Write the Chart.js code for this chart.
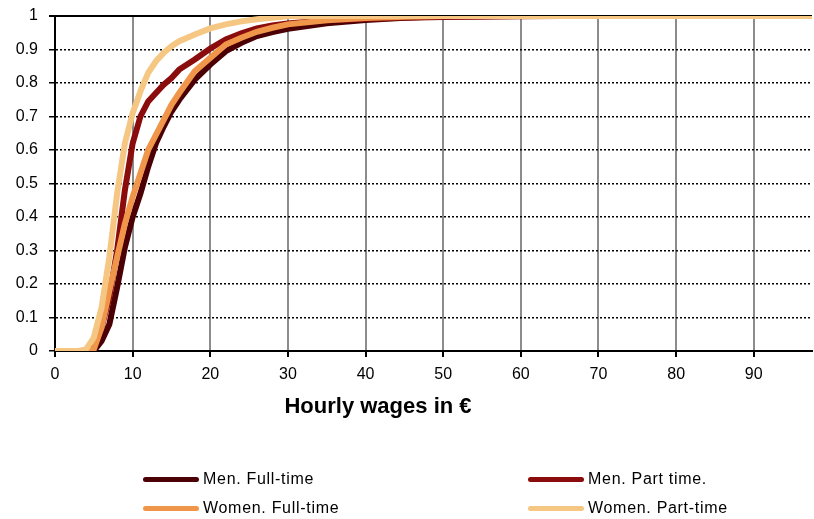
<!DOCTYPE html>
<html>
<head>
<meta charset="utf-8">
<script src="https://cdn.jsdelivr.net/npm/chart.js@4"></script>
<style>
  body { margin: 0; background: #fff; }
  #wrap { position: relative; width: 814px; height: 519px; }
  .leg { position: absolute; display: flex; align-items: center; height: 20px; font: 16px Arial, 'Liberation Sans', sans-serif; letter-spacing: 0.7px; color: #000; }
  .leg span.ln { display: inline-block; width: 56px; height: 5px; border-radius: 3px; margin-right: 4px; }
</style>
</head>
<body>
<div id="wrap">
  <canvas id="myChart" width="814" height="519"></canvas>
  <div class="leg" style="left:143px; top:469px"><span class="ln" style="background:#4a0004"></span>Men. Full-time</div>
  <div class="leg" style="left:528px; top:469px"><span class="ln" style="background:#8b0c0c"></span>Men. Part time.</div>
  <div class="leg" style="left:143px; top:498px"><span class="ln" style="background:#f0964a"></span>Women. Full-time</div>
  <div class="leg" style="left:528px; top:498px"><span class="ln" style="background:#f6c683"></span>Women. Part-time</div>
</div>
<script>
// salários por hora (eixo x)
const salarios = [0, 3, 4, 5, 6, 7, 8, 9, 10, 11, 12, 13, 14, 15, 16, 18, 20, 22, 24, 26, 28, 30, 35, 40, 45, 50, 55, 60, 65, 70, 80, 90, 100]

// distribuição acumulada por grupo
const homensIntegral = [0, 0, 0, 0, 0.03, 0.08, 0.19, 0.31, 0.40, 0.47, 0.55, 0.62, 0.67, 0.715, 0.75, 0.81, 0.855, 0.895, 0.92, 0.94, 0.952, 0.962, 0.978, 0.988, 0.995, 0.999, 1, 1, 1, 1, 1, 1, 1]
const homensParcial = [0, 0, 0, 0.02, 0.07, 0.16, 0.30, 0.48, 0.62, 0.70, 0.745, 0.77, 0.795, 0.815, 0.84, 0.87, 0.903, 0.93, 0.948, 0.963, 0.972, 0.978, 0.987, 0.992, 0.995, 0.997, 0.998, 0.999, 1, 1, 1, 1, 1]
const mulheresIntegral = [0, 0, 0, 0.005, 0.07, 0.18, 0.28, 0.38, 0.46, 0.53, 0.60, 0.645, 0.69, 0.735, 0.77, 0.835, 0.875, 0.915, 0.935, 0.953, 0.965, 0.975, 0.987, 0.994, 0.998, 1, 1, 1, 1, 1, 1, 1, 1]
const mulheresParcial = [0, 0, 0.005, 0.04, 0.13, 0.28, 0.47, 0.62, 0.71, 0.775, 0.83, 0.865, 0.89, 0.91, 0.925, 0.945, 0.963, 0.975, 0.984, 0.99, 0.995, 0.999, 1, 1, 1, 1, 1, 1, 1, 1, 1, 1, 1]

const nomes = ['Men. Full-time', 'Men. Part time.', 'Women. Full-time', 'Women. Part-time']
const cores = ['#4a0004', '#8b0c0c', '#f0964a', '#f6c683']
const series = [homensIntegral, homensParcial, mulheresIntegral, mulheresParcial]

const fonte = "Arial, 'Liberation Sans', sans-serif"

// título do eixo x (não centralizado na área do gráfico, como no original)
const tituloEixo = {
    id: 'tituloEixo',
    afterDraw(chart) {
        const c = chart.ctx
        c.save()
        c.font = 'bold 22px ' + fonte
        c.fillStyle = '#000'
        c.textAlign = 'center'
        c.textBaseline = 'alphabetic'
        c.fillText('Hourly wages in €', 378, 413)
        c.restore()
    }
}

const ctx = document.getElementById('myChart')
new Chart(ctx, {
    type: 'line',
    data: {
        datasets: series.map((s, i) => ({
            label: nomes[i],
            data: s.map((v, j) => ({ x: salarios[j], y: v })),
            borderColor: cores[i],
            backgroundColor: cores[i],
            borderWidth: 6,
            pointRadius: 0,
            tension: 0,
            order: 4 - i
        }))
    },
    options: {
        responsive: false,
        animation: false,
        layout: { padding: { left: 0, right: 2, top: 16, bottom: 88 } },
        plugins: { legend: { display: false }, tooltip: { enabled: false } },
        scales: {
            x: {
                type: 'linear',
                min: 0,
                max: 97.5,
                afterFit: (scale) => { scale.height = 80; scale.paddingLeft = 0; scale.paddingRight = 0 },
                ticks: { stepSize: 10, includeBounds: false, color: '#000', padding: 8, maxRotation: 0, font: { family: fonte, size: 16 } },
                grid: { color: '#8c8c8c', lineWidth: 2, tickLength: 6, tickColor: '#000', tickWidth: 2 },
                border: { color: '#000', width: 2 }
            },
            y: {
                min: 0,
                max: 1,
                afterFit: (scale) => { scale.width = 55; scale.paddingTop = 0; scale.paddingBottom = 0 },
                ticks: {
                    stepSize: 0.1, color: '#000', padding: 11,
                    font: { family: fonte, size: 16 },
                    callback: (v) => String(+v.toFixed(1))
                },
                grid: {
                    color: '#000',
                    lineWidth: (c) => c.tick && c.tick.value >= 0.999 ? 2 : 1.5,
                    tickLength: 6
                },
                border: {
                    color: '#000', width: 2,
                    dash: (c) => c.tick && c.tick.value > 0.001 && c.tick.value < 0.999 ? [2, 2] : []
                }
            }
        }
    },
    plugins: [tituloEixo]
});
</script>
</body>
</html>
